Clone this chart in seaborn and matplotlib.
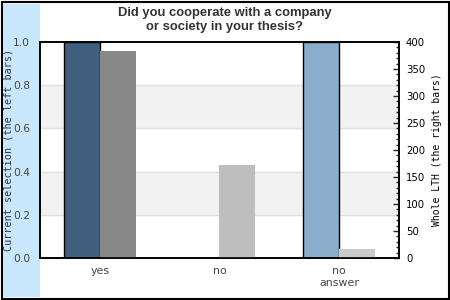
import matplotlib
matplotlib.use("Agg")
import matplotlib.pyplot as plt
from matplotlib.patches import Rectangle
from matplotlib.ticker import MultipleLocator, FixedLocator
import seaborn as sns
import pandas as pd

categories = ["yes", "no", "no\nanswer"]
left_values = [1.0, 0.0, 1.0]          # current selection (left axis)
right_values = [384, 172, 17]          # whole LTH (right axis)
left_colors = ["#3f5f7c", "#4f6f8f", "#8aaecb"]
right_colors = ["#888888", "#bebebe", "#cccccc"]
left_ticks = [0.0, 0.2, 0.4, 0.6, 0.8, 1.0]
right_ticks = [0, 50, 100, 150, 200, 250, 300, 350, 400]
title = "Did you cooperate with a company\nor society in your thesis?"

sns.set_style("white")

rows = []
for c, lv, rv in zip(categories, left_values, right_values):
    rows.append({"cat": c, "side": "left", "left": lv, "right": 0.0})
    rows.append({"cat": c, "side": "right", "left": 0.0, "right": rv})
df = pd.DataFrame(rows)

fig = plt.figure(figsize=(4.5, 3), dpi=100)
fig.patch.set_facecolor("white")
# outer border and blue band (drawn beneath the axes)
fig.patches.append(Rectangle((1.5/450, 1.5/300), 447/450, 297/300, transform=fig.transFigure,
                             fill=False, edgecolor="black", linewidth=1.5, zorder=-1))
fig.patches.append(Rectangle((3/450, 3.5/300), 37/450, 293/300, transform=fig.transFigure,
                             facecolor="#c8e7fc", edgecolor="none", zorder=-1))

ax = fig.add_axes([40/450, 1 - 258/300, 359/450, 216/300])
ax.set_facecolor("white")
ax.axhspan(0.2, 0.4, color="#f2f2f2", zorder=0)
ax.axhspan(0.6, 0.8, color="#f2f2f2", zorder=0)
for yv in [0.2, 0.4, 0.6, 0.8]:
    ax.axhline(yv, color="#e0e0e0", linewidth=1, zorder=0.5)

sns.barplot(data=df, x="cat", y="left", hue="side", hue_order=["left", "right"],
            dodge=True, width=0.6, ax=ax, legend=False, errorbar=None)
ax2 = ax.twinx()
sns.barplot(data=df, x="cat", y="right", hue="side", hue_order=["left", "right"],
            dodge=True, width=0.6, ax=ax2, legend=False, errorbar=None)

n = len(categories)
rect_l = sorted([p for p in ax.patches if isinstance(p, Rectangle) and p.get_width() < 1],
                key=lambda p: p.get_x())
for p in rect_l:
    p.set_zorder(2)
for i in range(n):
    lb, rb = rect_l[2*i], rect_l[2*i+1]
    lb.set_facecolor(left_colors[i]); lb.set_edgecolor("black"); lb.set_linewidth(1)
    rb.set_visible(False)
    if left_values[i] == 0:
        lb.set_visible(False)
rect_r = sorted([p for p in ax2.patches if isinstance(p, Rectangle)], key=lambda p: p.get_x())
for i in range(n):
    lb, rb = rect_r[2*i], rect_r[2*i+1]
    lb.set_visible(False)
    rb.set_facecolor(right_colors[i]); rb.set_edgecolor("none")

ax.set_ylim(0, 1.0)
ax2.set_ylim(0, 400)
ax.set_xlim(-0.5, n - 0.5)
ax.set_yticks(left_ticks)
ax.set_yticklabels([f"{t:.1f}" for t in left_ticks])
ax.tick_params(axis="y", length=0, labelsize=7.7, labelcolor="#444444", pad=7)
ax.tick_params(axis="x", length=0, labelsize=7.9, labelcolor="#444444", pad=6)
ax.set_xlabel("")
ax2.set_xlabel("")
ax.set_ylabel("Current selection (the left bars)", family="DejaVu Sans Mono",
              fontsize=7.3, color="#333344")
ax.yaxis.set_label_coords(-26/359, 0.5)
ax2.yaxis.set_major_locator(FixedLocator(right_ticks))
ax2.yaxis.set_minor_locator(MultipleLocator(10))
ax2.tick_params(axis="y", which="major", direction="in", length=4, width=1,
                labelsize=7.3, labelcolor="black", pad=5)
ax2.tick_params(axis="y", which="minor", direction="in", length=2, width=1)
ax2.set_ylabel("Whole LTH (the right bars)", family="DejaVu Sans Mono",
               fontsize=7, color="black")
ax2.yaxis.set_label_coords(1 + 33/359, 0.5)

for a in (ax, ax2):
    for s in a.spines.values():
        s.set_visible(True)
        s.set_color("black")
        s.set_linewidth(1.2)
ax2.patch.set_visible(False)

fig.text(225/450, 1 - 20/300, title, ha="center", va="center",
         family="Liberation Sans", fontweight="bold", fontsize=9.4,
         color="#333333", linespacing=1.15)

fig.savefig("out.png", dpi=100)
